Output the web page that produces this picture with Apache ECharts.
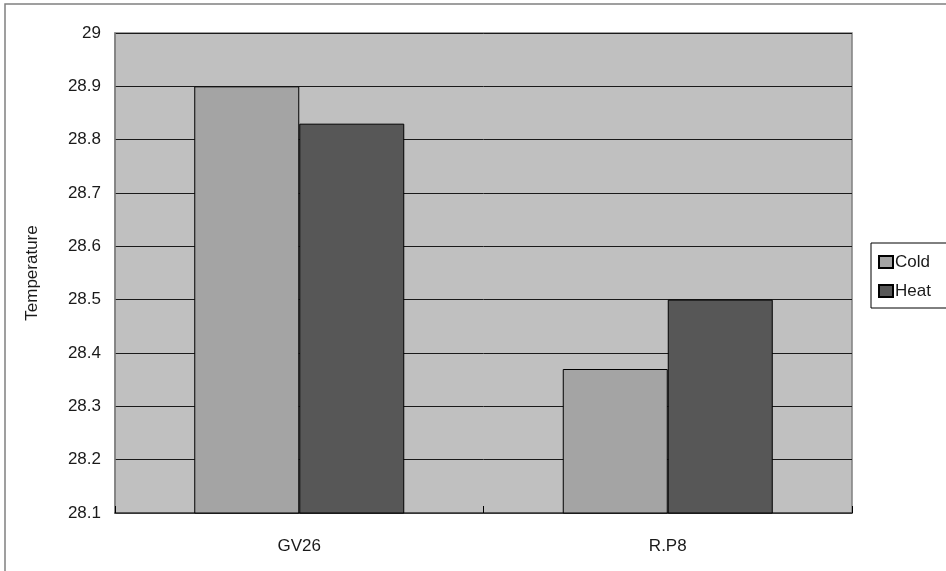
<!DOCTYPE html>
<html>
<head>
<meta charset="utf-8">
<script src="https://cdn.jsdelivr.net/npm/echarts@6/dist/echarts.min.js"></script>
<style>
  html, body { margin: 0; padding: 0; background: #fff; }
  #chart { width: 946px; height: 571px; }
</style>
</head>
<body>
<div id="chart"></div>
<script>
// Sites on the x axis and the two treatment series
const categories = ['GV26', 'R.P8'];
const coldValues = [28.9, 28.37];
const heatValues = [28.83, 28.5];
const seriesNames = ['Cold', 'Heat'];
const yMin = 28.1;
const yMax = 29;
const yStep = 0.1;

const FONT = '"Liberation Sans", Arial, sans-serif';

const chart = echarts.init(document.getElementById('chart'), null, { renderer: 'canvas' });

chart.setOption({
  animation: false,
  backgroundColor: '#ffffff',
  textStyle: { fontFamily: FONT },
  graphic: [
    {
      type: 'rect',
      shape: { x: 5, y: 4, width: 1200, height: 1200 },
      style: { fill: 'none', stroke: '#808080', lineWidth: 1.5 },
      silent: true,
      z: 0
    }
  ],
  grid: {
    left: 115,
    right: 94,
    top: 33,
    bottom: 58,
    show: true,
    backgroundColor: '#c0c0c0',
    borderColor: '#808080',
    borderWidth: 1.5
  },
  legend: {
    data: seriesNames,
    orient: 'vertical',
    left: 871,
    top: 243,
    padding: [10, 24, 8, 7],
    itemGap: 11,
    itemWidth: 14,
    itemHeight: 12,
    backgroundColor: '#ffffff',
    borderColor: '#000000',
    borderWidth: 1,
    icon: 'rect',
    textStyle: { fontFamily: FONT, fontSize: 17, color: '#1a1a1a', padding: [0, 0, 0, -3], lineHeight: 18 }
  },
  xAxis: {
    type: 'category',
    data: categories,
    axisLine: { show: true, lineStyle: { color: '#404040', width: 1.5 } },
    axisTick: { show: true, inside: true, length: 7, lineStyle: { color: '#000', width: 1 } },
    axisLabel: { fontFamily: FONT, fontSize: 17, color: '#1a1a1a', margin: 25 },
    splitLine: { show: false }
  },
  yAxis: {
    type: 'value',
    min: yMin,
    max: yMax,
    interval: yStep,
    name: 'Temperature',
    nameLocation: 'middle',
    nameGap: 74,
    nameRotate: 90,
    nameTextStyle: {
      fontFamily: FONT,
      fontSize: 17,
      color: '#1a1a1a',
      width: 112,
      overflow: 'truncate',
      ellipsis: ''
    },
    axisLine: { show: true, lineStyle: { color: '#808080', width: 1.5 } },
    axisTick: { show: false },
    axisLabel: {
      fontFamily: FONT,
      fontSize: 17,
      color: '#1a1a1a',
      margin: 14,
      formatter: function (v) { return String(+v.toFixed(1)); }
    },
    splitLine: { show: true, lineStyle: { color: '#1a1a1a', width: 1 } }
  },
  series: [
    {
      name: seriesNames[0],
      type: 'bar',
      data: coldValues,
      barWidth: 105,
      barGap: '0%',
      itemStyle: { color: '#a4a4a4', borderColor: '#000', borderWidth: 1 }
    },
    {
      name: seriesNames[1],
      type: 'bar',
      data: heatValues,
      barWidth: 105,
      barGap: '0%',
      itemStyle: { color: '#575757', borderColor: '#000', borderWidth: 1 }
    }
  ]
});
</script>
</body>
</html>
